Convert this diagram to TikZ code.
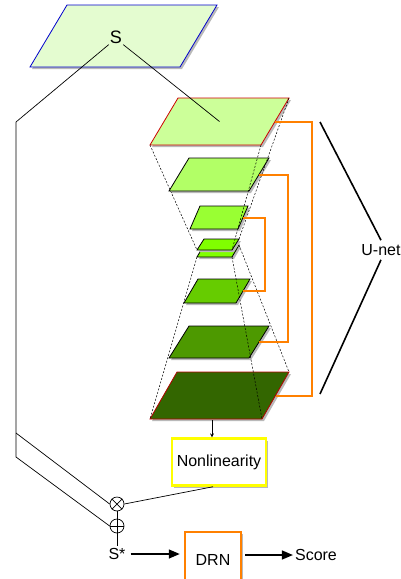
\documentclass[tikz,border=0pt]{standalone}
\usepackage{fontspec}
\setmainfont{Liberation Sans}
\usetikzlibrary{calc,shadows,arrows.meta}

\definecolor{sheet}{HTML}{E4FCD0}
\definecolor{layA}{HTML}{CCFF99}
\definecolor{layB}{HTML}{B2FF66}
\definecolor{layC}{HTML}{99FF33}
\definecolor{layD}{HTML}{80FF00}
\definecolor{layE}{HTML}{66CC00}
\definecolor{layF}{HTML}{4D9900}
\definecolor{layG}{HTML}{336600}
\definecolor{skiporange}{HTML}{FF8000}
\definecolor{nlyellow}{HTML}{FFFF00}

\tikzset{
  wire/.style={black,line width=0.7pt},
  guide/.style={black,line width=0.5pt,dash pattern=on 2pt off 1.6pt},
  skip/.style={skiporange,line width=2pt},
  bracket/.style={black,line width=1.6pt},
  boxshadow/.style={drop shadow={shadow xshift=2pt,shadow yshift=-2pt,fill=gray!55,opacity=1}},
  nlbox/.style={draw=nlyellow,line width=2.5pt,fill=white,minimum width=94pt,minimum height=47pt,boxshadow},
  drnbox/.style={draw=skiporange,line width=2.5pt,fill=white,minimum width=56pt,minimum height=56pt,boxshadow},
  opnode/.style={circle,draw,line width=0.7pt,minimum size=14pt,inner sep=0pt},
  bigarrow/.style={-{Triangle[length=11pt,width=9pt]},line width=1.5pt},
}

% plate: name, x, y (top left), width, height, skew, fill, border
\newcommand{\plate}[8]{%
  \fill[gray!55] (#2+2,#3+2) -- ++(#4,0) -- ++(-#6,#5) -- ++(-#4,0) -- cycle;
  \filldraw[fill=#7,draw=#8,line width=0.8pt] (#2,#3) coordinate (#1tl)
    -- ++(#4,0) coordinate (#1tr) -- ++(-#6,#5) coordinate (#1br)
    -- ++(-#4,0) coordinate (#1bl) -- cycle;
  \coordinate (#1r) at ($(#1tr)!0.5!(#1br)$);
  \coordinate (#1c) at ($(#1tl)!0.5!(#1br)$);
}

\begin{document}
\begin{tikzpicture}[x=1pt,y=-1pt,font=\fontsize{16}{19}\selectfont]
  \useasboundingbox (0,0) rectangle (401,579);
  \clip (0,0) rectangle (401,579);

  % input sheet
  \plate{top}{67}{5}{150}{62}{37}{sheet}{blue!80!black}
  \node[font=\fontsize{18}{21}\selectfont,inner sep=1pt] (S) at (116,37) {S};

  % u-net layers
  \plate{la}{178}{98}{111}{47}{28}{layA}{red!80!black}
  \plate{lb}{189}{158}{80}{33}{20}{layB}{black}
  \plate{lc}{200}{206}{48}{23}{10}{layC}{black}
  \plate{le}{198}{279}{52}{24}{14}{layE}{black}
  \plate{lf}{189}{326}{80}{32}{20}{layF}{black}
  \plate{lg}{177}{372}{112}{47}{27}{layG}{red!70!black}
  \plate{ld}{204}{245}{35}{12}{7}{layD}{black}
  \plate{lu}{204}{239}{35}{11}{7}{layD}{black}

  % funnel guides
  \draw[guide] (labl) -- (lubl);
  \draw[guide] (labr) -- (lubr);
  \draw[guide] (latr) -- (lutr);
  \draw[guide] (ldbl) -- (lgbl);
  \draw[guide] (ldbr) -- (lgbr);
  \draw[guide] (ldtr) -- (lgtr);

  % skip connections
  \draw[skip] (lar) -- ++(37,0) |- (lgr);
  \draw[skip] (lbr) -- ++(29,0) |- (lfr);
  \draw[skip] (lcr) -- ++(22,0) |- (ler);

  % u-net label
  \node[inner sep=4pt] (unet) at (381,250) {U-net};
  \coordinate (ut) at (320,122);
  \coordinate (ub) at (320,394);
  \draw[bracket] (ut) -- (unet.north);
  \draw[bracket] (unet.south) -- (ub);

  % nonlinearity and operators
  \node[nlbox] (nonlin) at (219,462) {Nonlinearity};
  \coordinate (outtap) at (212,420);
  \draw[wire,-stealth] (outtap) -- (outtap |- nonlin.north);

  \node[opnode] (mul) at (117,504) {};
  \draw[wire] (mul.north west) -- (mul.south east) (mul.north east) -- (mul.south west);
  \node[opnode] (add) at (117,526) {};
  \draw[wire] (add.north) -- (add.south) (add.west) -- (add.east);

  \node[inner sep=2pt] (sstar) at (117,554) {S*};
  \node[drnbox] (drn) at (213,560) {DRN};
  \node[inner sep=2pt] (score) at (316,555) {Score};

  % residual path
  \coordinate (ltop) at (16,122);
  \coordinate (lmid) at (16,433);
  \coordinate (lbot) at (16,457);
  \draw[wire] (S.south west) -- (ltop) -- (lbot) -- (add.west);
  \draw[wire] (lmid) -- (mul.west);
  \draw[wire] (S.south east) -- (lac);
  \draw[wire] (mul.east) -- ($(nonlin.south)+(-6,0)$);
  \draw[wire] (mul.south) -- (add.north);
  \draw[wire] (add.south) -- (sstar.north);

  % output
  \draw[bigarrow,shorten <=3pt,shorten >=4pt] (sstar.east) -- (sstar.east -| drn.west);
  \draw[bigarrow,shorten <=3pt] (score.west -| drn.east) -- (score.west);
\end{tikzpicture}
\end{document}
